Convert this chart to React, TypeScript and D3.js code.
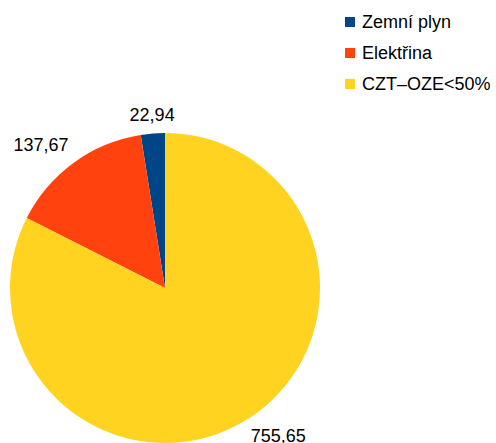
import React from 'react';
import * as d3 from 'd3';

const categories = ['Zemní plyn', 'Elektřina', 'CZT–OZE<50%'];
const values = [22.94, 137.67, 755.65];
const valueLabels = ['22,94', '137,67', '755,65'];
const colors = ['#004586', '#ff420e', '#ffd320'];

const width = 496;
const height = 443;
const cx = 165;
const cy = 288;
const radius = 155;

const App = () => {
  const pie = d3
    .pie<number>()
    .sort(null)
    .startAngle(0)
    .endAngle(-2 * Math.PI);
  const arcs = pie(values);
  const arc = d3.arc<d3.PieArcDatum<number>>().innerRadius(0).outerRadius(radius);

  // label sits just outside the rim, aligned away from the pie
  const labelPos = (a: d3.PieArcDatum<number>) => {
    const mid = (a.startAngle + a.endAngle) / 2;
    const dx = Math.sin(mid);
    const dy = -Math.cos(mid);
    const r = radius + 9;
    const x = dx * r;
    const y = dy * r;
    const anchor = Math.abs(dx) < 0.2 ? 'middle' : dx < 0 ? 'end' : 'start';
    const baseline = dy < 0 ? y - 4 : y + 14;
    return { x, y: baseline, anchor };
  };

  return (
    <svg
      width={width}
      height={height}
      style={{ position: 'absolute', left: 0, top: 0, fontFamily: 'Liberation Sans, Arial, sans-serif' }}
    >
      <rect width={width} height={height} fill="#fff" />
      <g transform={`translate(${cx},${cy})`}>
        {arcs.map((a, i) => (
          <path key={i} d={arc(a) || ''} fill={colors[i]} />
        ))}
        {arcs.map((a, i) => {
          const p = labelPos(a);
          return (
            <text key={'l' + i} x={p.x} y={p.y} textAnchor={p.anchor} fontSize={18} fill="#000">
              {valueLabels[i]}
            </text>
          );
        })}
      </g>
      <g transform="translate(345,17)">
        {categories.map((c, i) => (
          <g key={c} transform={`translate(0,${i * 31})`}>
            <rect width={10} height={10} fill={colors[i]} />
            <text x={17} y={11} fontSize={18} fill="#000">
              {c}
            </text>
          </g>
        ))}
      </g>
    </svg>
  );
};

export default App;
